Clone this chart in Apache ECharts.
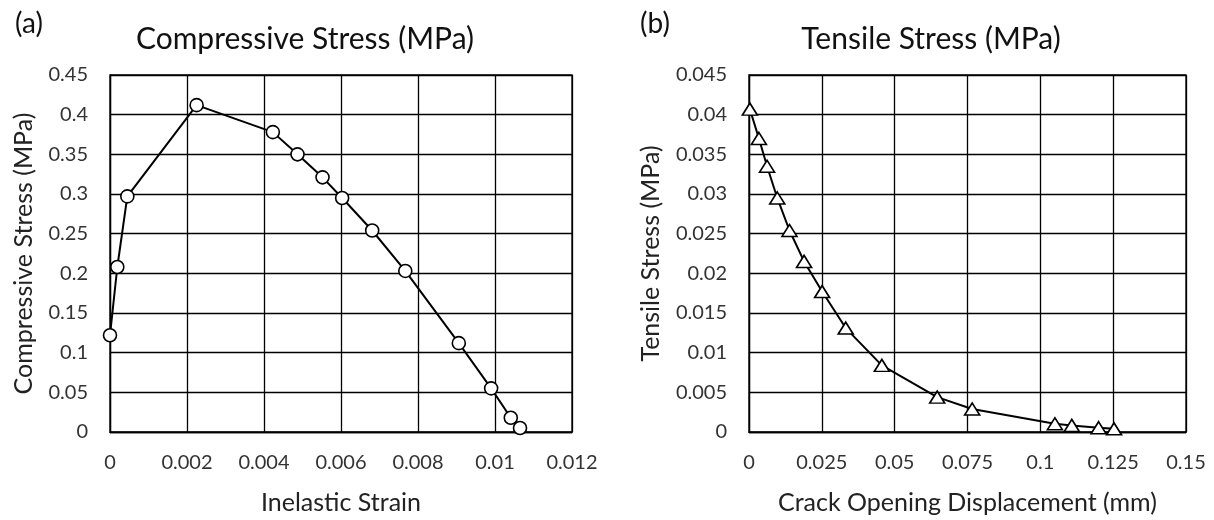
<!DOCTYPE html>
<html>
<head>
<meta charset="utf-8">
<script src="https://cdn.jsdelivr.net/npm/echarts@6/dist/echarts.min.js"></script>
<style>
  html, body { margin: 0; padding: 0; background: #fff; }
  #chart { width: 1214px; height: 520px; }
</style>
</head>
<body>
<div id="chart"></div>
<script>
// (a) compressive stress vs inelastic strain
var inelasticStrain = [0, 0.00019, 0.00045, 0.00225, 0.00423, 0.00487, 0.00552, 0.00603, 0.00681, 0.00767, 0.00906, 0.0099, 0.01041, 0.01065];
var compStress = [0.122, 0.208, 0.297, 0.412, 0.378, 0.350, 0.321, 0.295, 0.254, 0.203, 0.112, 0.055, 0.018, 0.005];

// (b) tensile stress vs crack opening displacement
var crackOpening = [0.0003, 0.0034, 0.0062, 0.0097, 0.0139, 0.0189, 0.0251, 0.0332, 0.0456, 0.0646, 0.0766, 0.105, 0.1108, 0.12, 0.1253];
var tensStress = [0.0407, 0.037, 0.0335, 0.0295, 0.0254, 0.0215, 0.0177, 0.0131, 0.0084, 0.0044, 0.0029, 0.00104, 0.00083, 0.00054, 0.0004];

var axisTitles = ['Inelastic Strain', 'Compressive Stress (MPa)', 'Crack Opening Displacement (mm)', 'Tensile Stress (MPa)'];
var panelTitles = ['Compressive Stress (MPa)', 'Tensile Stress (MPa)'];

var font = 'Lato, "Open Sans", sans-serif';
var ink = '#000';

function pairs(xs, ys) {
    return xs.map(function (x, i) { return [x, ys[i]]; });
}

function fmt(v) {
    return String(parseFloat(v.toFixed(4)));
}

function valueAxis(gridIndex, max, interval, name, gap, isY) {
    return {
        type: 'value',
        gridIndex: gridIndex,
        min: 0,
        max: max,
        interval: interval,
        name: name,
        nameLocation: 'middle',
        nameGap: gap,
        nameRotate: isY ? 90 : 0,
        nameTextStyle: { fontFamily: font, fontSize: 25, color: '#222' },
        axisLine: { show: true, lineStyle: { color: ink, width: 1.3 } },
        axisTick: { show: false },
        axisLabel: { fontFamily: font, fontSize: 20, color: '#333', margin: isY ? 22 : 21, formatter: fmt },
        splitLine: { show: true, lineStyle: { color: ink, width: 1.3 } }
    };
}

var chart = echarts.init(document.getElementById('chart'));

var option = {
    animation: false,
    backgroundColor: '#fff',
    grid: [
        { left: 110, top: 75, width: 462, height: 360, show: true, borderColor: ink, borderWidth: 1.3 },
        { left: 749, top: 75, width: 437, height: 360, show: true, borderColor: ink, borderWidth: 1.3 }
    ],
    xAxis: [
        valueAxis(0, 0.012, 0.002, axisTitles[0], 58, false),
        valueAxis(1, 0.15, 0.025, axisTitles[2], 58, false)
    ],
    yAxis: [
        valueAxis(0, 0.45, 0.05, axisTitles[1], 74, true),
        valueAxis(1, 0.045, 0.005, axisTitles[3], 86, true)
    ],
    graphic: [
        { type: 'text', x: 29, y: 24, style: { text: '(a)', font: '28px ' + font, fill: '#111', textAlign: 'center', textVerticalAlign: 'middle' } },
        { type: 'text', x: 655, y: 24, style: { text: '(b)', font: '28px ' + font, fill: '#111', textAlign: 'center', textVerticalAlign: 'middle' } },
        { type: 'text', x: 305, y: 39, style: { text: panelTitles[0], font: '30px ' + font, fill: '#111', textAlign: 'center', textVerticalAlign: 'middle' } },
        { type: 'text', x: 931, y: 39, style: { text: panelTitles[1], font: '30px ' + font, fill: '#111', textAlign: 'center', textVerticalAlign: 'middle' } }
    ],
    series: [
        {
            type: 'line',
            xAxisIndex: 0,
            yAxisIndex: 0,
            data: pairs(inelasticStrain, compStress),
            clip: false,
            symbol: 'circle',
            symbolSize: 13,
            showAllSymbol: true,
            lineStyle: { color: ink, width: 2 },
            itemStyle: { color: '#fff', borderColor: ink, borderWidth: 1.6 },
            z: 5
        },
        {
            type: 'line',
            xAxisIndex: 1,
            yAxisIndex: 1,
            data: pairs(crackOpening, tensStress),
            clip: false,
            symbol: 'triangle',
            symbolSize: [15, 12],
            showAllSymbol: true,
            lineStyle: { color: ink, width: 2 },
            itemStyle: { color: '#fff', borderColor: ink, borderWidth: 1.6 },
            z: 5
        }
    ]
};

chart.setOption(option);
</script>
</body>
</html>
